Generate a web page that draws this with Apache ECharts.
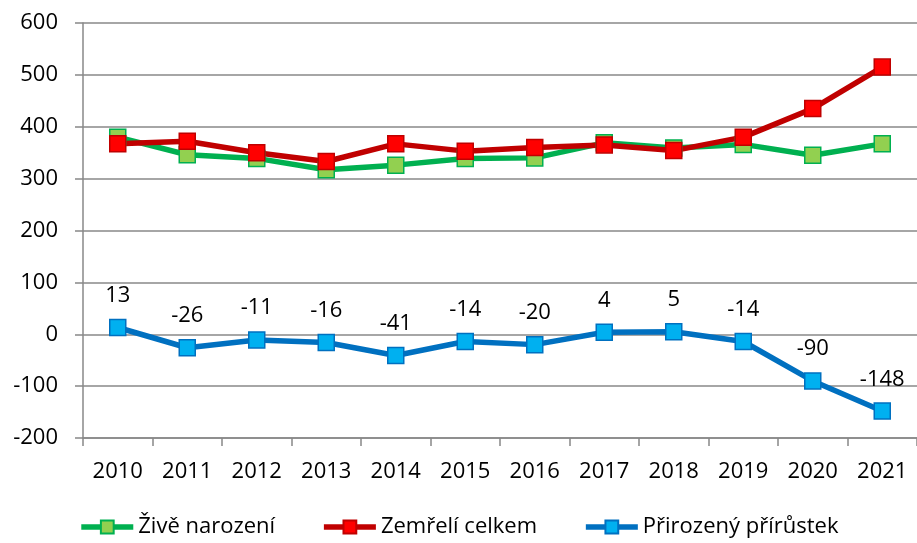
<!DOCTYPE html>
<html>
<head>
<meta charset="utf-8">
<script src="https://cdn.jsdelivr.net/npm/echarts@6/dist/echarts.min.js"></script>
<style>
  html, body { margin: 0; padding: 0; background: #fff; }
  #chart { width: 917px; height: 543px; }
</style>
</head>
<body>
<div id="chart"></div>
<script>
var years = ['2010', '2011', '2012', '2013', '2014', '2015', '2016', '2017', '2018', '2019', '2020', '2021'];
var zive = [380, 346, 339, 317, 326, 339, 340, 369, 359, 366, 345, 367];
var zemreli = [367, 372, 350, 333, 367, 353, 360, 365, 354, 380, 435, 515];
var prirustek = [13, -26, -11, -16, -41, -14, -20, 4, 5, -14, -90, -148];

var chart = echarts.init(document.getElementById('chart'));
var font = 'Open Sans';

function lineSeries(name, data, lineColor, fill) {
    return {
        name: name,
        type: 'line',
        data: data,
        symbol: 'rect',
        symbolSize: 16,
        lineStyle: { width: 5.5, color: lineColor },
        itemStyle: { color: fill, borderColor: lineColor, borderWidth: 1.5 },
        emphasis: { disabled: true },
        animation: false
    };
}

var blue = lineSeries('Přirozený přírůstek', prirustek, '#0070C0', '#00B0F0');
blue.label = {
    show: true,
    position: 'top',
    distance: 12,
    color: '#000',
    fontFamily: font,
    fontSize: 22
};

var option = {
    backgroundColor: '#fff',
    grid: { left: 83, right: 0, top: 23, bottom: 105 },
    legend: {
        bottom: 0,
        left: 'center',
        itemWidth: 52,
        itemHeight: 16,
        itemGap: 46,
        lineStyle: { width: 5.5 },
        textStyle: { color: '#000', fontFamily: font, fontSize: 22 },
        data: ['Živě narození', 'Zemřelí celkem', 'Přirozený přírůstek']
    },
    xAxis: {
        type: 'category',
        data: years,
        position: 'bottom',
        axisLine: { onZero: false, lineStyle: { color: '#888', width: 1.5 } },
        axisTick: { show: true, length: 8, lineStyle: { color: '#888', width: 1.5 } },
        axisLabel: { color: '#000', fontFamily: font, fontSize: 22, margin: 23 }
    },
    yAxis: {
        type: 'value',
        min: -200,
        max: 600,
        interval: 100,
        axisLine: { show: true, lineStyle: { color: '#888', width: 1.5 } },
        axisTick: { show: true, length: 8, lineStyle: { color: '#888', width: 1.5 } },
        splitLine: { lineStyle: { color: '#888', width: 1.5 } },
        axisLabel: { color: '#000', fontFamily: font, fontSize: 22, margin: 25 }
    },
    series: [
        lineSeries('Živě narození', zive, '#00B050', '#92D050'),
        lineSeries('Zemřelí celkem', zemreli, '#C00000', '#FF0000'),
        blue
    ]
};
chart.setOption(option);
</script>
</body>
</html>
